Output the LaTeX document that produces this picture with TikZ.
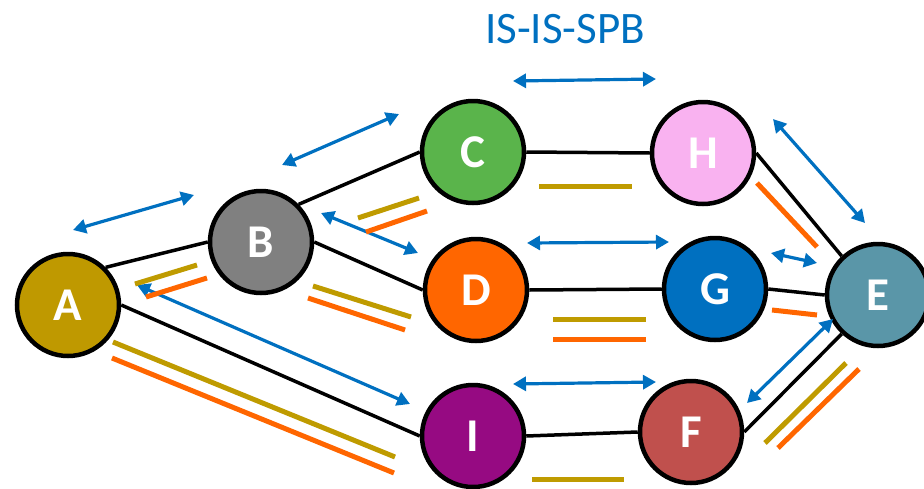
\documentclass[tikz,border=0pt]{standalone}
\usepackage{fontspec}
\setmainfont{Carlito}
\usetikzlibrary{arrows.meta,backgrounds}
\definecolor{cA}{HTML}{BF9900}
\definecolor{cB}{HTML}{808080}
\definecolor{cC}{HTML}{5AB44B}
\definecolor{cH}{HTML}{F9B2F0}
\definecolor{cD}{HTML}{FF6600}
\definecolor{cG}{HTML}{0070C0}
\definecolor{cE}{HTML}{5A96A8}
\definecolor{cI}{HTML}{960A82}
\definecolor{cF}{HTML}{C0504D}
\definecolor{arrblue}{HTML}{0070C0}
\definecolor{bargold}{HTML}{BF9B00}
\definecolor{barorange}{HTML}{FF6600}
\begin{document}
\begin{tikzpicture}[x=1pt,y=-1pt,
  router/.style={circle,draw=black,line width=4.5pt,minimum size=102pt,inner sep=0pt,
    text=white,font=\fontsize{47}{47}\selectfont\bfseries},
  link/.style={line width=3.5pt,black},
  sync/.style={line width=3.2pt,arrblue,{Triangle[length=13pt,width=14pt]}-{Triangle[length=13pt,width=14pt]}},
  goldbar/.style={line width=5pt,bargold},
  orangebar/.style={line width=5pt,barorange}]
\useasboundingbox (0,0) rectangle (924,488);
% nodes
\node[router,fill=cA] (A) at (68,305) {A};
\node[router,fill=cB] (B) at (261,242) {B};
\node[router,fill=cC] (C) at (473,152) {C};
\node[router,fill=cH] (H) at (703,153) {H};
\node[router,fill=cD] (D) at (476,290) {D};
\node[router,fill=cG] (G) at (715,289) {G};
\node[router,fill=cE] (E) at (878,295) {E};
\node[router,fill=cI] (I) at (473,436) {I};
\node[router,fill=cF] (F) at (691,432) {F};
% title
\node[text=arrblue,font=\fontsize{45}{45}\selectfont] (title) at (565,29) {IS-IS-SPB};
% links
\begin{pgfonlayer}{background}
\draw[link] (A.45) -- (B.west);
\draw[link] (A.east) -- (I.west);
\draw[link] (B.45) -- (C.west);
\draw[link] (B.east) -- (D.west);
\draw[link] (C.east) -- (H.west);
\draw[link] (D.east) -- (G.west);
\draw[link] (I.east) -- (F.west);
\draw[link] (H.east) -- (E.133);
\draw[link] (G.east) -- (E.west);
\draw[link] (F.east) -- (E.227);
\end{pgfonlayer}
% sync arrows
\draw[sync] (73,230) -- (194,195);
\draw[sync] (282,165) -- (399,114);
\draw[sync] (513,81) -- (656,79);
\draw[sync] (321,213) -- (418,253);
\draw[sync] (527,243) -- (669,242);
\draw[sync] (137,285) -- (410,404);
\draw[sync] (513,384) -- (656,382);
\draw[sync] (773,119) -- (865,223);
\draw[sync] (771,253) -- (817,263);
\draw[sync] (747,403) -- (833,319);
% bars
\draw[goldbar] (135,284) -- (197,265);
\draw[orangebar] (146,297) -- (207,278);
\draw[goldbar] (113,342) -- (395,457);
\draw[orangebar] (112,358) -- (394,473);
\draw[goldbar] (358,218) -- (419,198);
\draw[orangebar] (366,232) -- (427,211);
\draw[goldbar] (313,286) -- (411,317);
\draw[orangebar] (308,298) -- (405,330);
\draw[goldbar] (539,186) -- (632,186);
\draw[goldbar] (553,319) -- (646,319);
\draw[orangebar] (553,339) -- (646,339);
\draw[goldbar] (532,479) -- (624,479);
\draw[orangebar] (757,183) -- (817,247);
\draw[orangebar] (772,310) -- (817,315);
\draw[goldbar] (765,443) -- (846,363);
\draw[orangebar] (778,448) -- (859,369);
\end{tikzpicture}
\end{document}
